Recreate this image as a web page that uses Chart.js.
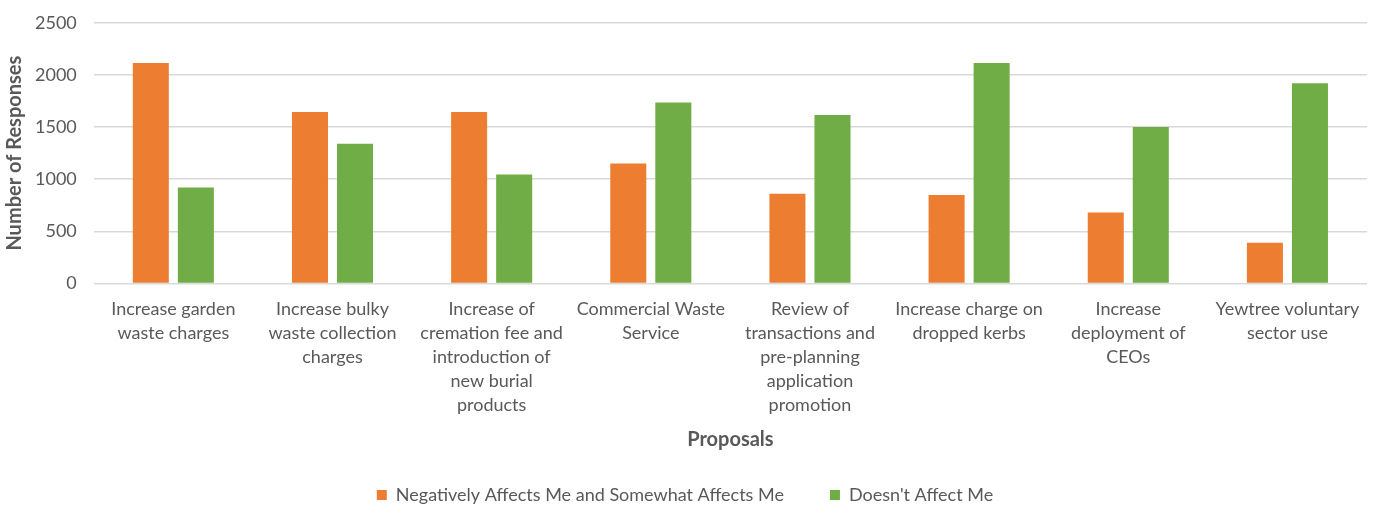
<!DOCTYPE html>
<html>
<head>
<meta charset="utf-8">
<script src="https://cdn.jsdelivr.net/npm/chart.js@4.4.1/dist/chart.umd.min.js"></script>
<style>
  html, body { margin: 0; padding: 0; background: #fff; }
  #wrap { width: 1379px; height: 505px; }
</style>
</head>
<body>
<div id="wrap"><canvas id="chart" width="1379" height="505"></canvas></div>
<script>
'use strict';

// ── Data ────────────────────────────────────────────────────
const proposals = [
  ['Increase garden', 'waste charges'],
  ['Increase bulky', 'waste collection', 'charges'],
  ['Increase of', 'cremation fee and', 'introduction of', 'new burial', 'products'],
  ['Commercial Waste', 'Service'],
  ['Review of', 'transactions and', 'pre-planning', 'application', 'promotion'],
  ['Increase charge on', 'dropped kerbs'],
  ['Increase', 'deployment of', 'CEOs'],
  ['Yewtree voluntary', 'sector use']
];
const negativelyAffects = [2115, 1645, 1645, 1150, 860, 850, 680, 390];
const doesntAffect      = [920, 1340, 1045, 1735, 1615, 2115, 1500, 1920];
const yTicks            = [0, 500, 1000, 1500, 2000, 2500];

const FONT = 'Lato, "Open Sans", sans-serif';
const GREY = '#595959';

// legend: wide gap between items but a tight vertical band
const LEGEND_VPAD = 6;
const legendSqueeze = {
  id: 'legendSqueeze',
  beforeLayout(chart) {
    const lg = chart.legend;
    if (!lg || lg._squeezed) return;
    const fit = lg.fit.bind(lg);
    lg.fit = function () {
      fit();
      this.height -= this.options.labels.padding - LEGEND_VPAD + 9;
    };
    lg._squeezed = true;
  },
  afterLayout(chart) {
    const lg = chart.legend;
    if (lg) lg.top -= lg.options.labels.padding - LEGEND_VPAD;
  }
};

new Chart(document.getElementById('chart').getContext('2d'), {
  type: 'bar',
  data: {
    labels: proposals,
    datasets: [
      {
        label: 'Negatively Affects Me and Somewhat Affects Me',
        data: negativelyAffects,
        backgroundColor: '#ED7D31',
        categoryPercentage: 0.566,
        barPercentage: 0.8
      },
      {
        label: "Doesn't Affect Me",
        data: doesntAffect,
        backgroundColor: '#70AD47',
        categoryPercentage: 0.566,
        barPercentage: 0.8
      }
    ]
  },
  plugins: [legendSqueeze],
  options: {
    responsive: false,
    animation: false,
    layout: { padding: { top: 0, right: 12, left: 3, bottom: 0 } },
    plugins: {
      tooltip: { enabled: false },
      legend: {
        position: 'bottom',
        labels: {
          color: GREY,
          font: { family: FONT, size: 18 },
          boxWidth: 10,
          boxHeight: 10,
          padding: 46
        }
      }
    },
    scales: {
      x: {
        grid: { display: false, drawTicks: false },
        border: { display: false },
        ticks: {
          color: GREY,
          font: { family: FONT, size: 18, lineHeight: 1.333 },
          maxRotation: 0,
          autoSkip: false,
          padding: 14
        },
        title: {
          display: true,
          text: 'Proposals',
          color: GREY,
          font: { family: FONT, size: 20, weight: 'bold' },
          padding: { top: -4, bottom: 28.5 }
        }
      },
      y: {
        min: 0,
        max: 2500,
        afterBuildTicks: axis => { axis.ticks = yTicks.map(v => ({ value: v })); },
        // tick padding is also added above the top label; trim it back
        afterFit: axis => { axis.paddingTop -= 5; },
        grid: { color: '#D9D9D9', lineWidth: 1.5, drawTicks: false },
        border: { display: false },
        ticks: {
          color: GREY,
          font: { family: FONT, size: 18 },
          padding: 17,
          callback: v => String(v)
        },
        title: {
          display: true,
          text: 'Number of Responses',
          color: GREY,
          font: { family: FONT, size: 20, weight: 'bold' },
          padding: { top: 0, bottom: -9 }
        }
      }
    }
  }
});
</script>
</body>
</html>
